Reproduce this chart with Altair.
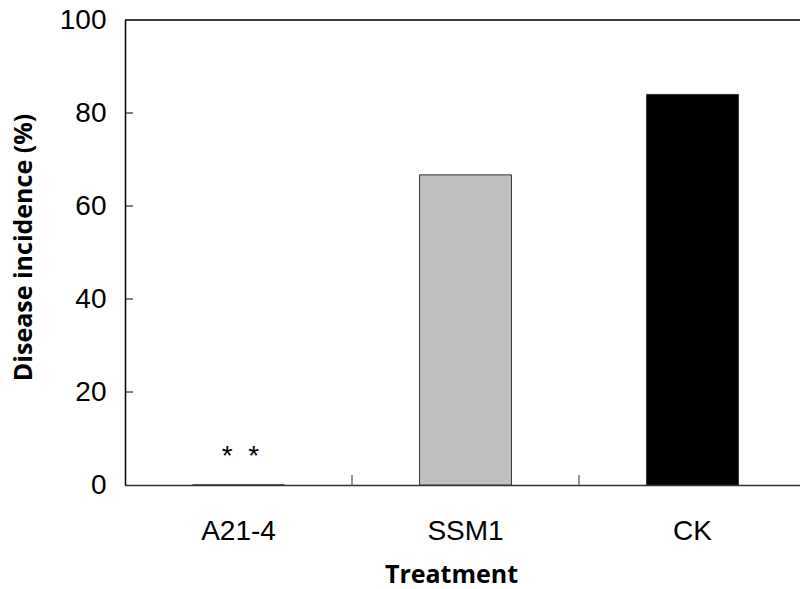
import altair as alt
import pandas as pd

categories = ["A21-4", "SSM1", "CK"]
incidence = [0.0, 66.7, 84.0]
bar_colors = ["#c0c0c0", "#c0c0c0", "#000000"]
y_ticks = [0, 20, 40, 60, 80, 100]
boundary_cats = ["SSM1", "CK"]
mark_cat = ["A21-4"]
mark_text = ["*\u00a0\u00a0*"]
mark_y = [6.0]

df = pd.DataFrame({"Treatment": categories, "Incidence": incidence, "color": bar_colors})
tick_df = pd.DataFrame({"v": y_ticks[1:-1]})
bnd_df = pd.DataFrame({"Treatment": boundary_cats})
star_df = pd.DataFrame({"Treatment": mark_cat, "y": mark_y, "t": mark_text})

LABEL_FONT = "Liberation Sans"
TITLE_FONT = "Open Sans"

xscale = alt.Scale(domain=categories, range=[0, 681], paddingInner=0, paddingOuter=0)
yscale = alt.Scale(domain=[0, 100], nice=False)

bars = alt.Chart(df).mark_bar(
    width=alt.RelativeBandSize(0.405), stroke="#333333", strokeWidth=1
).encode(
    x=alt.X("Treatment:N", scale=xscale, sort=categories,
            axis=alt.Axis(title="Treatment", ticks=False, tickSize=0, labelAngle=0,
                          labelFont=LABEL_FONT, labelFontSize=28, labelColor="#000000",
                          labelPadding=32, domainColor="#333333", domainWidth=1.5,
                          titleFont=TITLE_FONT, titleFontSize=25, titleFontWeight="bold",
                          titleColor="#000000", titleX=326, titleY=97,
                          titleBaseline="alphabetic", titleAnchor="middle", titleAlign="center")),
    y=alt.Y("Incidence:Q", scale=yscale,
            axis=alt.Axis(title="Disease incidence (%)", values=y_ticks, ticks=False, tickSize=0,
                          grid=False, labelFont=LABEL_FONT, labelFontSize=28,
                          labelColor="#000000", labelPadding=19, domainColor="#000000",
                          domainWidth=1.5,
                          titleFont=TITLE_FONT, titleFontSize=25, titleFontWeight="bold",
                          titleColor="#000000", titleX=-102, titleY=227, titleAngle=-90,
                          titleBaseline="middle", titleAlign="center")),
    color=alt.Color("color:N", scale=None),
)

yticks = alt.Chart(tick_df).mark_rule(color="#000000", strokeWidth=1).encode(
    y=alt.Y("v:Q", scale=yscale),
    x=alt.value(0), x2=alt.value(8),
)

xticks = alt.Chart(bnd_df).mark_rule(color="#333333", strokeWidth=1).encode(
    x=alt.X("Treatment:N", scale=xscale, bandPosition=0),
    y=alt.value(455), y2=alt.value(465),
)

top = alt.Chart(pd.DataFrame({"v": [100]})).mark_rule(color="#000000", strokeWidth=1.5).encode(
    y=alt.Y("v:Q", scale=yscale),
    x=alt.value(0), x2=alt.value(681),
)

stars = alt.Chart(star_df).mark_text(
    font=LABEL_FONT, fontSize=28, color="#000000", baseline="middle", align="center", dx=2
).encode(
    x=alt.X("Treatment:N", scale=xscale),
    y=alt.Y("y:Q", scale=yscale),
    text="t:N",
)

chart = alt.layer(top, bars, yticks, xticks, stars).properties(
    width=675, height=465,
    autosize=alt.AutoSizeParams(type="none"),
    padding={"left": 125, "top": 20, "right": 0, "bottom": 104},
).configure_view(stroke=None).configure(background="#ffffff")

chart.save("out.html", embed_options={"renderer": "svg", "actions": False})
